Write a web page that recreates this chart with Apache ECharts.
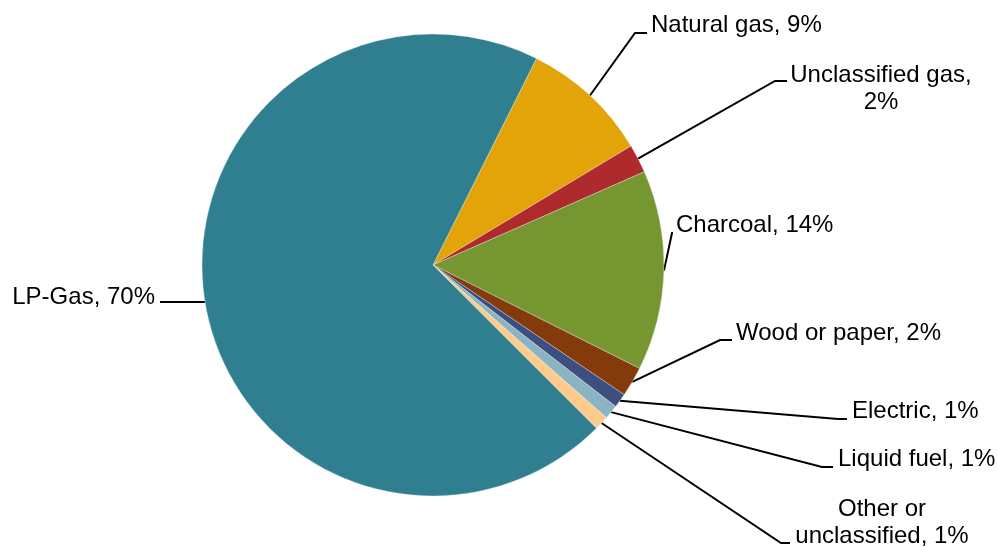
<!DOCTYPE html>
<html>
<head>
<meta charset="utf-8">
<script src="https://cdn.jsdelivr.net/npm/echarts@6/dist/echarts.min.js"></script>
<style>
  html, body { margin: 0; padding: 0; background: #fff; }
  #chart { width: 998px; height: 547px; }
</style>
</head>
<body>
<div id="chart"></div>
<script>
  const categories = ['Natural gas', 'Unclassified gas', 'Charcoal', 'Wood or paper',
    'Electric', 'Liquid fuel', 'Other or unclassified', 'LP-Gas']
  const shares = [9, 2, 14, 2.1, 1, 1, 1, 69.9]
  const labelTexts = [
    'Natural gas, 9%',
    'Unclassified gas,\n2%',
    'Charcoal, 14%',
    'Wood or paper, 2%',
    'Electric, 1%',
    'Liquid fuel, 1%',
    'Other or\nunclassified, 1%',
    'LP-Gas, 70%'
  ]
  const sliceColors = ['#E3A40A', '#AE2A2C', '#759630', '#853A0B',
    '#3C4F7F', '#8AB4C2', '#FDCB8B', '#2F7F91']

  // label placement: elbow point, line end, label anchor, alignment
  // flat: line runs level from the slice edge (no elbow)
  const labelSpots = [
    { elbow: [635, 33], end: [647, 33], x: 651, y: 25, align: 'left' },
    { elbow: [775, 81], end: [787, 81], x: 881, y: 89, align: 'center' },
    { elbow: [672, 233], end: [673, 233], x: 676, y: 225, align: 'left' },
    { elbow: [720, 340], end: [732, 340], x: 736, y: 333, align: 'left' },
    { elbow: [838, 419], end: [847, 419], x: 852, y: 411, align: 'left' },
    { elbow: [822, 467], end: [833, 467], x: 838, y: 459, align: 'left' },
    { elbow: [781, 543], end: [790, 543], x: 882, y: 523, align: 'center' },
    { flat: true, endX: 160, x: 155, dy: -5, align: 'right' }
  ]

  const chart = echarts.init(document.getElementById('chart'))
  chart.setOption({
    animation: false,
    series: [{
      type: 'pie',
      center: [433, 265],
      radius: 231,
      startAngle: 63.4,
      clockwise: true,
      avoidLabelOverlap: false,
      itemStyle: { borderColor: '#fff', borderWidth: 0.3 },
      label: {
        show: true,
        position: 'outside',
        color: '#000',
        fontFamily: 'Liberation Sans, Arial, sans-serif',
        fontSize: 24,
        lineHeight: 27,
        formatter: p => labelTexts[p.dataIndex]
      },
      labelLine: {
        show: true,
        length: 20,
        length2: 10,
        lineStyle: { color: '#000', width: 2 }
      },
      labelLayout: params => {
        const s = labelSpots[params.dataIndex]
        const start = params.labelLinePoints[0]
        if (s.flat) {
          return {
            x: s.x,
            y: start[1] + s.dy,
            align: s.align,
            verticalAlign: 'middle',
            labelLinePoints: [start, [(start[0] + s.endX) / 2, start[1]], [s.endX, start[1]]]
          }
        }
        return {
          x: s.x,
          y: s.y,
          align: s.align,
          verticalAlign: 'middle',
          labelLinePoints: [start, s.elbow, s.end]
        }
      },
      data: categories.map((name, i) => ({
        name: name,
        value: shares[i],
        itemStyle: { color: sliceColors[i] }
      }))
    }]
  })
</script>
</body>
</html>
